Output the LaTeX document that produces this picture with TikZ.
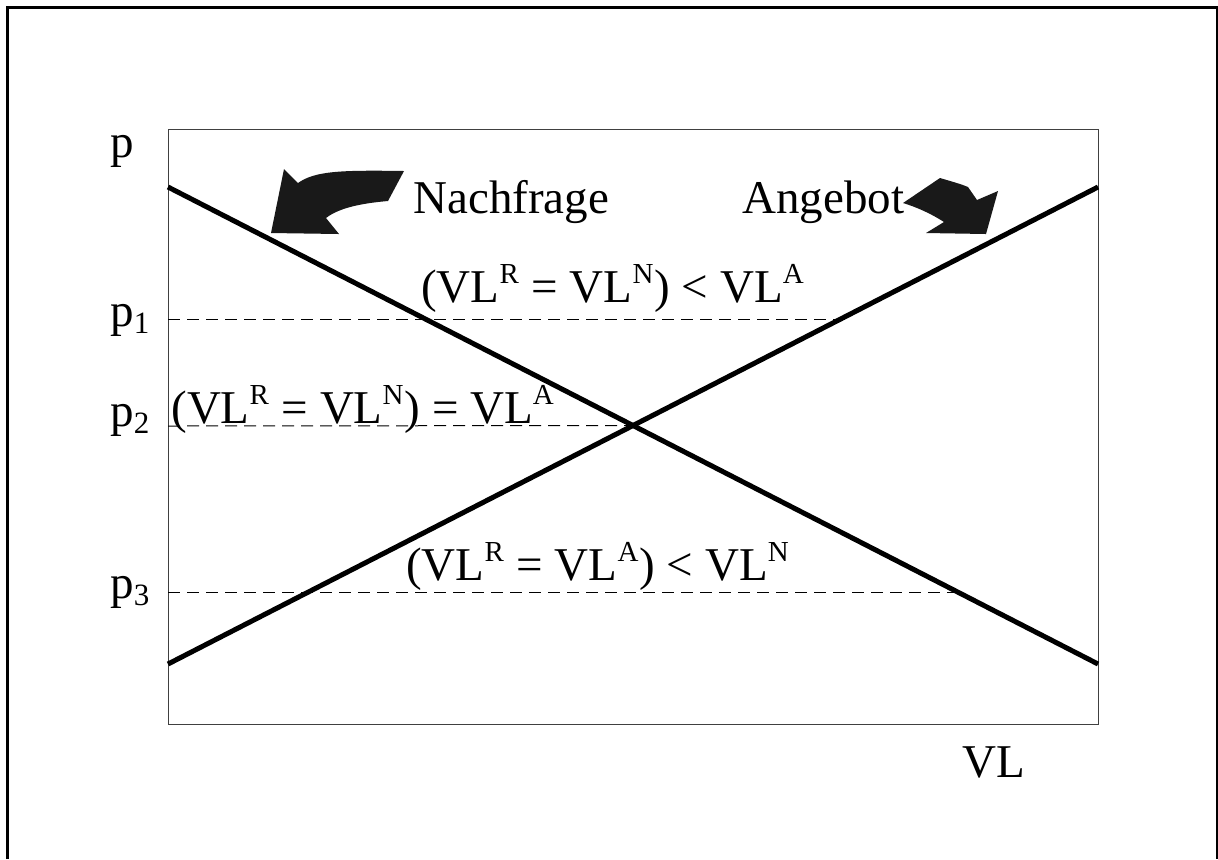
\documentclass[tikz,border=0pt]{standalone}
\usepackage{fontspec}
\setmainfont{Liberation Serif}
\usetikzlibrary{positioning}
\tikzset{
  font={\fontsize{23.5pt}{28}\selectfont}}
% index letters
\newcommand{\sups}[1]{\textsuperscript{\fontsize{14.5pt}{15}\selectfont #1}}
\newcommand{\subs}[1]{\textsubscript{\fontsize{15.5pt}{16}\selectfont #1}}

\begin{document}
\begin{tikzpicture}[x=0.5pt, y=-0.5pt,
    frame_line/.style ={draw=black, line width=1.5pt},
    box_line/.style ={draw=black!75, line width=0.5pt},
    market_line/.style ={draw=black, line width=2.5pt},
    price_line/.style ={draw=black, line width=0.5pt, dash pattern=on 6pt off 3.5pt},
    block_arrow/.style ={fill=black!90, draw=none},
    label_text/.style ={inner sep=0pt, anchor=base west},
    label_mid/.style ={inner sep=0pt, anchor=base}]
    \useasboundingbox (0,0) rectangle (1218,859);
    % outer frame (open at the bottom)
    \draw[frame_line] (7,859) -- (7,7) -- (1217,7) -- (1217,859);
    % plot area
    \draw[box_line] (168,129) rectangle (1098,724);
    % end points of the two lines
    \coordinate (demand_l) at (168,187);
    \coordinate (demand_r) at (1098,664);
    \coordinate (supply_l) at (168,664);
    \coordinate (supply_r) at (1098,187);
    \coordinate (cross) at (633,425.5);
    % price levels
    \coordinate (p1_axis) at (168,319);
    \coordinate (p1_end) at (848,319);
    \coordinate (p2_axis) at (168,426);
    \coordinate (p3_axis) at (168,592);
    \coordinate (p3_end) at (958,592);
    \path[price_line] (p1_axis) -- (p1_end);
    \path[price_line] (p2_axis) -- (cross);
    \path[price_line] (p3_axis) -- (p3_end);
    % Nachfrage / Angebot
    \path[market_line] (demand_l) -- (demand_r);
    \path[market_line] (supply_l) -- (supply_r);
    % block arrows
    \fill[block_arrow] (271,233) -- (284,169) -- (298,183)
      .. controls (315,171) and (340,170) .. (404,171) -- (388,201)
      .. controls (365,203) and (340,207) .. (326,218) -- (339,234) -- cycle;
    \fill[block_arrow] (903,203) -- (940,178)
      .. controls (950,181) and (961,184) .. (968,187) -- (977,200)
      -- (998,191) -- (986,234) -- (926,233) -- (944,222)
      .. controls (930,213) and (916,207) .. (903,203) -- cycle;
    % labels
    \node[label_text] (p0) at (110,157) {p};
    \node[label_text] (p1) at (110,326) {p\subs{1}};
    \node[label_text] (p2) at (110,426) {p\subs{2}};
    \node[label_text] (p3) at (110,598) {p\subs{3}};
    \node[label_text] (vl) at (962,777) {VL};
    \node[label_text] (nachfrage) at (413,213) {Nachfrage};
    \node[label_text] (angebot) at (742,213) {Angebot};
    \node[label_mid] (excess_a) at (613,302) {(VL\sups{R} = VL\sups{N}) < VL\sups{A}};
    \node[label_text] (equal) at (171,423) {(VL\sups{R} = VL\sups{N}) = VL\sups{A}};
    \node[label_mid] (excess_n) at (598,580) {(VL\sups{R} = VL\sups{A}) < VL\sups{N}};
\end{tikzpicture}
\end{document}
